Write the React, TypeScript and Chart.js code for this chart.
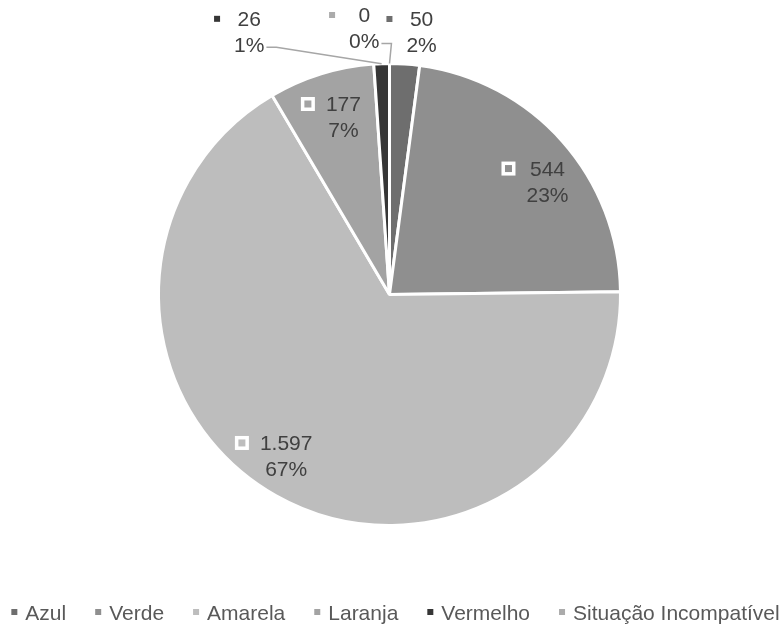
import React, { useEffect, useRef } from "react";
import { Chart, registerables } from "chart.js";

Chart.register(...registerables);

const categories = ["Azul", "Verde", "Amarela", "Laranja", "Vermelho", "Situação Incompatível"];
const values = [50, 544, 1597, 177, 26, 0];
const colors = ["#6e6e6e", "#8f8f8f", "#bdbdbd", "#a3a3a3", "#363636", "#ababab"];

// label placement relative to each slice: [angle shift in degrees, radius factor, inside?, leader line?]
const labelShift = [3.2, 5.9, 3.3, 2.7, -26.1, -5.4];
const labelRadius = [1.147, 0.842, 0.828, 0.796, 1.291, 1.161];
const labelInside = [false, true, true, true, false, false];
const labelLeader = [false, false, false, false, true, true];

const FONT = '21px "Liberation Sans", Arial, sans-serif';
const LABEL_COLOR = "#404040";
const LEGEND_COLOR = "#595959";

function fmt(v: number): string {
  return String(v).replace(/\B(?=(\d{3})+(?!\d))/g, ".");
}

const labelPlugin = {
  id: "excelLabels",
  afterDraw(chart: any) {
    const ctx: CanvasRenderingContext2D = chart.ctx;
    const meta = chart.getDatasetMeta(0);
    const total = values.reduce((a, b) => a + b, 0);
    ctx.save();
    ctx.font = FONT;
    ctx.textBaseline = "alphabetic";
    ctx.textAlign = "center";
    meta.data.forEach((arc: any, i: number) => {
      const { x, y, startAngle, endAngle, outerRadius } = arc.getProps(
        ["x", "y", "startAngle", "endAngle", "outerRadius"],
        true
      );
      const mid = (startAngle + endAngle) / 2;
      const a = mid + (labelShift[i] * Math.PI) / 180;
      const r = outerRadius * labelRadius[i];
      const ax = x + Math.cos(a) * r;
      const ay = y + Math.sin(a) * r;
      const l1 = fmt(values[i]);
      const l2 = Math.round((values[i] / total) * 100) + "%";
      const w = Math.max(ctx.measureText(l1).width, ctx.measureText(l2).width);
      ctx.fillStyle = LABEL_COLOR;
      ctx.fillText(l1, ax, ay - 5);
      ctx.fillText(l2, ax, ay + 21);
      const my = ay - 12.5;
      if (labelInside[i]) {
        const right = ax - w / 2 - 11;
        ctx.fillStyle = "#ffffff";
        ctx.fillRect(right - 14, my - 7, 14, 14);
        ctx.fillStyle = colors[i];
        ctx.fillRect(right - 10.5, my - 3.5, 7, 7);
      } else {
        const right = ax - w / 2 - 14;
        ctx.fillStyle = colors[i];
        ctx.fillRect(right - 6, my - 3, 6, 6);
      }
      if (labelLeader[i]) {
        const sx = ax + w / 2 + 2;
        const sy = ay + 16;
        const ex = x + Math.cos(mid) * outerRadius;
        const ey = y + Math.sin(mid) * outerRadius;
        ctx.strokeStyle = "#a6a6a6";
        ctx.lineWidth = 1.5;
        ctx.beginPath();
        ctx.moveTo(sx, sy);
        ctx.lineTo(sx + 10, sy);
        ctx.lineTo(ex, ey);
        ctx.stroke();
      }
    });

    // legend
    const box = 6;
    const gapBox = 8;
    const gapItem = 29;
    const widths = categories.map((c) => ctx.measureText(c).width);
    const totalW = widths.reduce((s, w) => s + box + gapBox + w, 0) + gapItem * (categories.length - 1);
    let lx = chart.width / 2 + 5 - totalW / 2;
    const baseline = 620;
    ctx.textAlign = "left";
    categories.forEach((c, i) => {
      ctx.fillStyle = colors[i];
      ctx.fillRect(lx, baseline - 11, box, box);
      lx += box + gapBox;
      ctx.fillStyle = LEGEND_COLOR;
      ctx.fillText(c, lx, baseline);
      lx += widths[i] + gapItem;
    });
    ctx.restore();
  },
};

export default function App() {
  const ref = useRef<HTMLCanvasElement | null>(null);
  useEffect(() => {
    if (!ref.current) return;
    const chart = new Chart(ref.current, {
      type: "pie",
      data: {
        labels: categories,
        datasets: [
          {
            data: values,
            backgroundColor: colors,
            borderColor: "#ffffff",
            borderWidth: 3,
          },
        ],
      },
      options: {
        responsive: false,
        animation: false,
        layout: { padding: { left: 157, right: 159, top: 62, bottom: 101 } },
        plugins: { legend: { display: false }, tooltip: { enabled: false } },
      },
      plugins: [labelPlugin],
    });
    return () => chart.destroy();
  }, []);
  return (
    <div style={{ position: "fixed", left: 0, top: 0, width: 781, height: 628, background: "#ffffff" }}>
      <canvas ref={ref} width={781} height={628} style={{ display: "block" }} />
    </div>
  );
}
